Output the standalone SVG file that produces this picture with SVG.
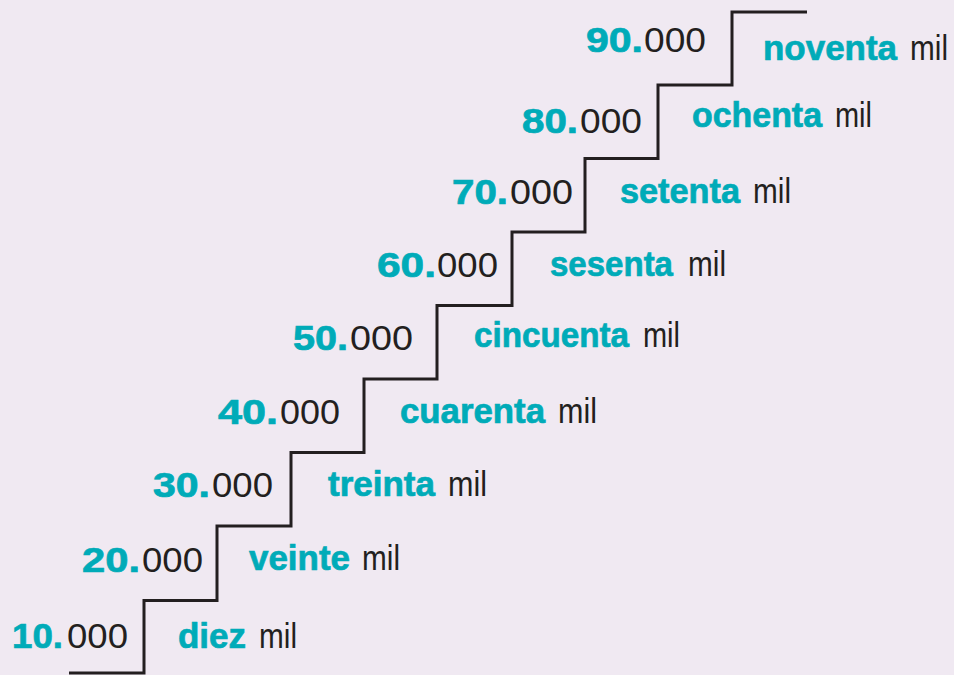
<svg xmlns="http://www.w3.org/2000/svg" width="954" height="675" viewBox="0 0 954 675">
<style>
text{font-family:"Liberation Sans",Arial,sans-serif;font-size:35px}
.b{font-weight:bold;fill:#00abb8;stroke:#00abb8;stroke-width:0.7px}
.r{fill:#231f20}
</style>
<rect width="954" height="675" fill="#f0e9f2"/>
<g id="stairs">
<polyline fill="none" stroke="#231f20" stroke-width="3" points="69,673 144,673 144,600.5 217,600.5 217,526 291,526 291,452.5 364,452.5 364,379 437,379 437,305.5 512,305.5 512,232 585,232 585,158.5 658,158.5 658,85 732,85 732,12 807,12"/>
</g>
<g id="row10">
<text class="b" x="12" y="648" textLength="51" lengthAdjust="spacingAndGlyphs">10.</text>
<text class="r" x="67" y="648" textLength="61" lengthAdjust="spacingAndGlyphs">000</text>
<text class="b" x="178" y="648" textLength="68" lengthAdjust="spacingAndGlyphs">diez</text>
<text class="r" x="259" y="648" textLength="38" lengthAdjust="spacingAndGlyphs">mil</text>
</g>
<g id="row20">
<text class="b" x="82" y="572" textLength="58" lengthAdjust="spacingAndGlyphs">20.</text>
<text class="r" x="142" y="572" textLength="61" lengthAdjust="spacingAndGlyphs">000</text>
<text class="b" x="249" y="570" textLength="101" lengthAdjust="spacingAndGlyphs">veinte</text>
<text class="r" x="362" y="570" textLength="38" lengthAdjust="spacingAndGlyphs">mil</text>
</g>
<g id="row30">
<text class="b" x="153" y="497" textLength="57" lengthAdjust="spacingAndGlyphs">30.</text>
<text class="r" x="212" y="497" textLength="61" lengthAdjust="spacingAndGlyphs">000</text>
<text class="b" x="328" y="496" textLength="107" lengthAdjust="spacingAndGlyphs">treinta</text>
<text class="r" x="448" y="496" textLength="39" lengthAdjust="spacingAndGlyphs">mil</text>
</g>
<g id="row40">
<text class="b" x="218" y="424" textLength="60" lengthAdjust="spacingAndGlyphs">40.</text>
<text class="r" x="280" y="424" textLength="60" lengthAdjust="spacingAndGlyphs">000</text>
<text class="b" x="400" y="423" textLength="145" lengthAdjust="spacingAndGlyphs">cuarenta</text>
<text class="r" x="558" y="423" textLength="39" lengthAdjust="spacingAndGlyphs">mil</text>
</g>
<g id="row50">
<text class="b" x="293" y="350" textLength="55" lengthAdjust="spacingAndGlyphs">50.</text>
<text class="r" x="350" y="350" textLength="63" lengthAdjust="spacingAndGlyphs">000</text>
<text class="b" x="474" y="347" textLength="155" lengthAdjust="spacingAndGlyphs">cincuenta</text>
<text class="r" x="643" y="347" textLength="37" lengthAdjust="spacingAndGlyphs">mil</text>
</g>
<g id="row60">
<text class="b" x="377" y="277" textLength="59" lengthAdjust="spacingAndGlyphs">60.</text>
<text class="r" x="437" y="277" textLength="61" lengthAdjust="spacingAndGlyphs">000</text>
<text class="b" x="550" y="276" textLength="123" lengthAdjust="spacingAndGlyphs">sesenta</text>
<text class="r" x="688" y="276" textLength="38" lengthAdjust="spacingAndGlyphs">mil</text>
</g>
<g id="row70">
<text class="b" x="452" y="204" textLength="56" lengthAdjust="spacingAndGlyphs">70.</text>
<text class="r" x="510" y="204" textLength="63" lengthAdjust="spacingAndGlyphs">000</text>
<text class="b" x="620" y="203" textLength="120" lengthAdjust="spacingAndGlyphs">setenta</text>
<text class="r" x="753" y="203" textLength="38" lengthAdjust="spacingAndGlyphs">mil</text>
</g>
<g id="row80">
<text class="b" x="522" y="133" textLength="56" lengthAdjust="spacingAndGlyphs">80.</text>
<text class="r" x="580" y="133" textLength="62" lengthAdjust="spacingAndGlyphs">000</text>
<text class="b" x="692" y="127" textLength="130" lengthAdjust="spacingAndGlyphs">ochenta</text>
<text class="r" x="835" y="127" textLength="37" lengthAdjust="spacingAndGlyphs">mil</text>
</g>
<g id="row90">
<text class="b" x="586" y="52" textLength="57" lengthAdjust="spacingAndGlyphs">90.</text>
<text class="r" x="644" y="52" textLength="62" lengthAdjust="spacingAndGlyphs">000</text>
<text class="b" x="763" y="60" textLength="134" lengthAdjust="spacingAndGlyphs">noventa</text>
<text class="r" x="910" y="60" textLength="38" lengthAdjust="spacingAndGlyphs">mil</text>
</g>
</svg>
